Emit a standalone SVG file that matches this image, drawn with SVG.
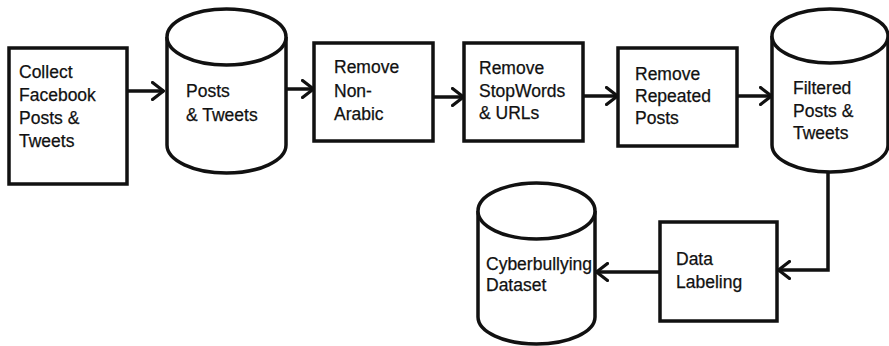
<svg xmlns="http://www.w3.org/2000/svg" width="889" height="346" viewBox="0 0 889 346">
<defs>
<marker id="arr" viewBox="0 0 14 20" refX="13" refY="10" markerWidth="14" markerHeight="20" markerUnits="userSpaceOnUse" orient="auto">
<path d="M1.5,1.5 L12.5,10 L1.5,18.5" fill="none" stroke="#111" stroke-width="3.2" stroke-linecap="round" stroke-linejoin="round"/>
</marker>
</defs>
<style>
.box{fill:#fff;stroke:#111;stroke-width:3.5}
.cyl{fill:#fff;stroke:#111;stroke-width:3.5}
.lbl{font-family:"Liberation Sans",Arial,sans-serif;font-size:17.5px;fill:#111;stroke:#111;stroke-width:0.25}
.con{fill:none;stroke:#111;stroke-width:3.5}
</style>
<rect width="889" height="346" fill="#fff"/>
<g id="connectors">
<line class="con" x1="127" y1="91" x2="164" y2="91" marker-end="url(#arr)"/>
<line class="con" x1="286" y1="89" x2="314" y2="89" marker-end="url(#arr)"/>
<line class="con" x1="433" y1="97" x2="464" y2="97" marker-end="url(#arr)"/>
<line class="con" x1="583" y1="96" x2="618" y2="96" marker-end="url(#arr)"/>
<line class="con" x1="737" y1="96" x2="772" y2="96" marker-end="url(#arr)"/>
<polyline class="con" points="828,172 828,270 778,270" marker-end="url(#arr)"/>
<line class="con" x1="660" y1="272" x2="596" y2="272" marker-end="url(#arr)"/>
</g>
<g id="collect">
<rect class="box" x="9" y="48" width="118" height="136"/>
<text class="lbl" x="19" y="78">Collect</text>
<text class="lbl" x="19" y="101">Facebook</text>
<text class="lbl" x="19" y="124">Posts &amp;</text>
<text class="lbl" x="19" y="147">Tweets</text>
</g>
<g id="posts-tweets">
<path class="cyl" d="M167,37 L167,145 A59.5,28 0 0 0 286,145 L286,37"/>
<ellipse class="cyl" cx="226.5" cy="37" rx="59.5" ry="28"/>
<text class="lbl" x="186" y="97">Posts</text>
<text class="lbl" x="186" y="121">&amp; Tweets</text>
</g>
<g id="remove-nonarabic">
<rect class="box" x="314" y="43" width="119" height="98"/>
<text class="lbl" x="334" y="73">Remove</text>
<text class="lbl" x="334" y="97">Non-</text>
<text class="lbl" x="334" y="120">Arabic</text>
</g>
<g id="remove-stopwords">
<rect class="box" x="464" y="43" width="119" height="98"/>
<text class="lbl" x="479" y="74">Remove</text>
<text class="lbl" x="479" y="97">StopWords</text>
<text class="lbl" x="479" y="119">&amp; URLs</text>
</g>
<g id="remove-repeated">
<rect class="box" x="618" y="48" width="119" height="98"/>
<text class="lbl" x="635" y="80">Remove</text>
<text class="lbl" x="635" y="102">Repeated</text>
<text class="lbl" x="635" y="124">Posts</text>
</g>
<g id="filtered">
<path class="cyl" d="M772,36 L772,145 A58,27 0 0 0 888,145 L888,36"/>
<ellipse class="cyl" cx="830" cy="36" rx="58" ry="27"/>
<text class="lbl" x="793" y="94">Filtered</text>
<text class="lbl" x="793" y="117">Posts &amp;</text>
<text class="lbl" x="793" y="139">Tweets</text>
</g>
<g id="data-labeling">
<rect class="box" x="660" y="222" width="117" height="99"/>
<text class="lbl" x="676" y="265">Data</text>
<text class="lbl" x="676" y="288">Labeling</text>
</g>
<g id="cyberbullying-dataset">
<path class="cyl" d="M478,211 L478,317 A58.5,27 0 0 0 595,317 L595,211"/>
<ellipse class="cyl" cx="536.5" cy="211" rx="58.5" ry="28"/>
<text class="lbl" x="486" y="270">Cyberbullying</text>
<text class="lbl" x="486" y="291">Dataset</text>
</g>
</svg>
